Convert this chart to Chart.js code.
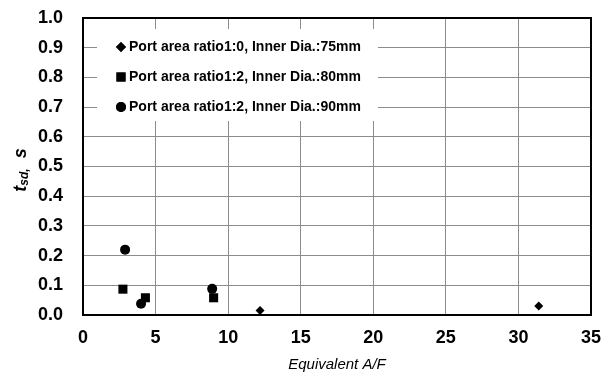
<!DOCTYPE html>
<html>
<head>
<meta charset="utf-8">
<script src="https://cdn.jsdelivr.net/npm/chart.js@4/dist/chart.umd.min.js"></script>
<style>
  html, body { margin: 0; padding: 0; background: #fff; }
  #wrap { width: 612px; height: 377px; }
</style>
</head>
<body>
<div id="wrap"><canvas id="myChart" width="612" height="377"></canvas></div>
<script>
'use strict';

/** @desc Series labels */
const LABELS = [
  'Port area ratio1:0, Inner Dia.:75mm',
  'Port area ratio1:2, Inner Dia.:80mm',
  'Port area ratio1:2, Inner Dia.:90mm'
];

/** @desc Equivalent A/F (x) and t_sd (y) of each series */
const AF_75 = [12.2, 31.4];
const TSD_75 = [0.015, 0.03];
const AF_80 = [2.75, 4.3, 9.0];
const TSD_80 = [0.087, 0.058, 0.058];
const AF_90 = [2.9, 4.0, 8.9];
const TSD_90 = [0.22, 0.038, 0.088];

/** @desc Marker style of each series */
const STYLES = ['rectRot', 'rect', 'circle'];
const RADII = [4.5, 6.4, 5];

const X_TITLE = 'Equivalent A/F';

const toPoints = (xs, ys) => xs.map((x, i) => ({x: x, y: ys[i]}));

const SERIES = [toPoints(AF_75, TSD_75), toPoints(AF_80, TSD_80), toPoints(AF_90, TSD_90)];

const DATA = {
  datasets: SERIES.map((pts, i) => ({
    label: LABELS[i],
    data: pts,
    pointStyle: STYLES[i],
    pointRadius: RADII[i],
    pointBackgroundColor: '#000',
    pointBorderColor: '#000',
    pointBorderWidth: 0
  }))
};

/** @desc Legend inside the plot, titles and frame */
const DECOR = {
  id: 'decor',
  afterDatasetsDraw(chart) {
    const ctx = chart.ctx;
    const area = chart.chartArea;
    ctx.save();
    // legend box
    ctx.fillStyle = '#fff';
    ctx.fillRect(97, 29, 281, 92);
    ctx.font = 'bold 14px "Liberation Sans", Arial, sans-serif';
    ctx.textBaseline = 'middle';
    ctx.textAlign = 'left';
    chart.data.datasets.forEach((ds, i) => {
      const y = 47 + i * 30;
      ctx.fillStyle = '#000';
      Chart.helpers.drawPoint(ctx, {pointStyle: ds.pointStyle, radius: i === 1 ? 6.4 : 5, borderWidth: 0}, 121, y);
      ctx.fill();
      ctx.fillText(ds.label, 129, y);
    });
    // frame
    ctx.strokeStyle = '#000';
    ctx.lineWidth = 2;
    ctx.strokeRect(area.left, area.top, area.right - area.left, area.bottom - area.top);
    // x title
    ctx.font = 'italic 15px "Liberation Sans", Arial, sans-serif';
    ctx.textAlign = 'center';
    ctx.fillText(X_TITLE, (area.left + area.right) / 2, 365);
    // y title with subscript
    ctx.translate(21, 170);
    ctx.rotate(-Math.PI / 2);
    ctx.textAlign = 'left';
    const big = 'italic bold 18px "Liberation Sans", Arial, sans-serif';
    const small = 'italic bold 12px "Liberation Sans", Arial, sans-serif';
    ctx.font = big;
    const wT = ctx.measureText('t').width;
    ctx.font = small;
    const wSub = ctx.measureText('sd,').width;
    ctx.font = big;
    const wS = ctx.measureText('  s').width;
    let x = -(wT + wSub + wS) / 2;
    ctx.fillText('t', x, 0);
    x += wT;
    ctx.font = small;
    ctx.fillText('sd,', x, 4);
    x += wSub;
    ctx.font = big;
    ctx.fillText('  s', x, 0);
    ctx.restore();
  }
};

const TICK_FONT = {family: '"Liberation Sans", Arial, sans-serif', size: 18, weight: 'bold'};

const SCALES = {
  x: {
    type: 'linear',
    min: 0,
    max: 35,
    ticks: {stepSize: 5, color: '#000', font: TICK_FONT, padding: 12},
    grid: {color: '#8c8c8c', lineWidth: 1, drawTicks: false},
    border: {display: false},
    afterFit(scale) {
      scale.height = 62;
      scale.paddingLeft = 0;
      scale.paddingRight = 0;
    }
  },
  y: {
    min: 0,
    max: 1,
    ticks: {
      stepSize: 0.1,
      color: '#000',
      font: TICK_FONT,
      padding: 20,
      callback: (v) => v.toFixed(1)
    },
    grid: {color: '#8c8c8c', lineWidth: 1, drawTicks: false},
    border: {display: false},
    afterFit(scale) {
      scale.width = 83;
      scale.paddingTop = 0;
      scale.paddingBottom = 0;
    }
  }
};

const CONFIG = {
  type: 'scatter',
  data: DATA,
  options: {
    responsive: false,
    animation: false,
    layout: {padding: {left: 0, top: 18, right: 21, bottom: 0}},
    plugins: {legend: {display: false}, tooltip: {enabled: false}},
    scales: SCALES
  },
  plugins: [DECOR]
};

const CTX = document.getElementById('myChart').getContext('2d');
let myChart = new Chart(CTX, CONFIG);
</script>
</body>
</html>
